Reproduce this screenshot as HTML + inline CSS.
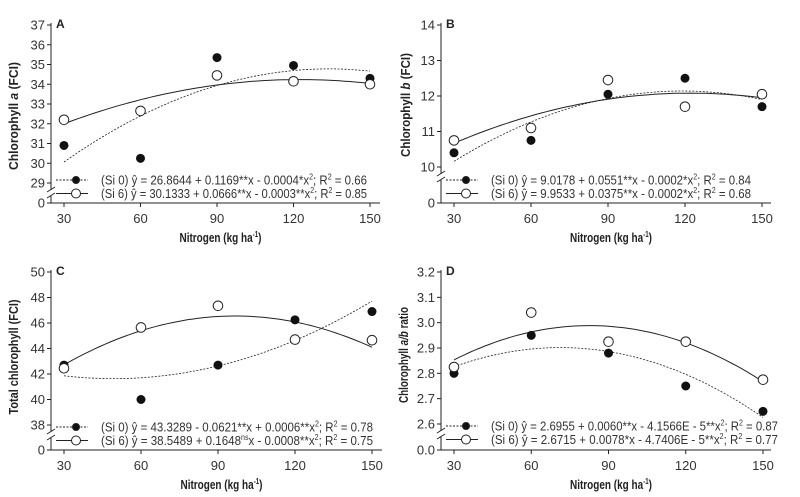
<!DOCTYPE html>
<html><head><meta charset="utf-8"><style>
html,body{margin:0;padding:0;background:#fff;}
svg{display:block;font-family:"Liberation Sans Narrow","Liberation Sans",sans-serif;}
</style></head><body>
<svg id="chart" width="800" height="497" viewBox="0 0 800 497"></svg>
<script>
const nitrogenLevels = [30, 60, 90, 120, 150];
const chlAsi0 = [30.9, 30.25, 35.35, 34.95, 34.3];
const chlAsi6 = [32.2, 32.65, 34.45, 34.15, 34.0];
const chlBsi0 = [10.4, 10.75, 12.05, 12.5, 11.7];
const chlBsi6 = [10.75, 11.1, 12.45, 11.7, 12.05];
const totSi0 = [42.7, 40.0, 42.7, 46.25, 46.9];
const totSi6 = [42.45, 45.65, 47.35, 44.7, 44.65];
const ratioSi0 = [2.80, 2.95, 2.88, 2.75, 2.65];
const ratioSi6 = [2.825, 3.04, 2.925, 2.925, 2.775];
const ticksA = [29, 30, 31, 32, 33, 34, 35, 36, 37];
const ticksB = [10, 11, 12, 13, 14];
const ticksC = [38, 40, 42, 44, 46, 48, 50];
const ticksD = [2.6, 2.7, 2.8, 2.9, 3.0, 3.1, 3.2];
const xTicks = [30, 60, 90, 120, 150];

const NS = "http://www.w3.org/2000/svg";
const svg = document.getElementById('chart');
function mk(tag, attrs, parent) {
  const e = document.createElementNS(NS, tag);
  for (const k in attrs) e.setAttribute(k, attrs[k]);
  (parent || svg).appendChild(e);
  return e;
}
function fitQuad(xs, ys) {
  let S = [0,0,0,0,0], T = [0,0,0];
  for (let i = 0; i < xs.length; i++) {
    const x = xs[i], y = ys[i];
    for (let p = 0; p < 5; p++) S[p] += Math.pow(x, p);
    for (let p = 0; p < 3; p++) T[p] += y * Math.pow(x, p);
  }
  const M = [[S[0],S[1],S[2],T[0]],[S[1],S[2],S[3],T[1]],[S[2],S[3],S[4],T[2]]];
  for (let i = 0; i < 3; i++) {
    for (let j = i + 1; j < 3; j++) {
      const f = M[j][i] / M[i][i];
      for (let k = i; k < 4; k++) M[j][k] -= f * M[i][k];
    }
  }
  const c = [0,0,0];
  for (let i = 2; i >= 0; i--) {
    let s = M[i][3];
    for (let k = i + 1; k < 3; k++) s -= M[i][k] * c[k];
    c[i] = s / M[i][i];
  }
  return x => c[0] + c[1] * x + c[2] * x * x;
}

function panel(cfg) {
  const g = mk('g', {});
  
  
  const ax = cfg.ax, base = cfg.base;
  const X = v => cfg.x30 + (v - 30) * (cfg.x150 - cfg.x30) / 120;
  const Y = v => cfg.yTop + (cfg.ticks[cfg.ticks.length - 1] - v) * (cfg.yLow - cfg.yTop) / (cfg.ticks[cfg.ticks.length - 1] - cfg.ticks[0]);
  const breakY = cfg.yLow + 9;
  const ya = mk('path', {d: `M${ax},${cfg.yTop - 2}V${breakY - 2}M${ax},${breakY + 4}V${base}H${cfg.xEnd}`, stroke: '#222', 'stroke-width': 1, fill: 'none'}, g);
  
  
  mk('path', {d: `M${ax - 4},${breakY}L${ax + 4},${breakY - 5}M${ax - 4},${breakY + 6}L${ax + 4},${breakY + 1}`, stroke: '#222', 'stroke-width': 1, fill: 'none'}, g);
  cfg.ticks.forEach(t => {
    const y = Y(t);
    mk('line', {x1: ax - 4, x2: ax, y1: y, y2: y, stroke: '#222'}, g);
    const tx = mk('text', {x: ax - 6, y: y + 4.5, 'text-anchor': 'end', 'font-size': 13, fill: '#333'}, g);
    tx.textContent = cfg.fmt(t);
    
    
  });
  mk('line', {x1: ax - 4, x2: ax, y1: base, y2: base, stroke: '#222'}, g);
  const z = mk('text', {x: ax - 6, y: base + 4.5, 'text-anchor': 'end', 'font-size': 13, fill: '#333'}, g);
  z.textContent = cfg.zero;
  
  
  xTicks.forEach(t => {
    mk('line', {x1: X(t), x2: X(t), y1: base, y2: base + 4, stroke: '#222'}, g);
    const tx = mk('text', {x: X(t), y: base + 20, 'text-anchor': 'middle', 'font-size': 13, fill: '#333'}, g);
    tx.textContent = t;
    
    
  });
  const xt = mk('text', {x: (ax + cfg.xEnd) / 2 + 5, y: base + 39, 'text-anchor': 'middle', 'font-size': 13, 'font-weight': 'bold', fill: '#222', textLength: 82, lengthAdjust: 'spacingAndGlyphs'}, g);
  xt.innerHTML = 'Nitrogen (kg ha<tspan dy="-5" font-size="8">-1</tspan><tspan dy="5">)</tspan>';
  
  
  const yt = mk('text', {transform: `translate(${cfg.ytx},${cfg.yty}) rotate(-90)`, 'text-anchor': 'middle', 'font-size': 13, 'font-weight': 'bold', fill: '#222', textLength: cfg.ytLen, lengthAdjust: 'spacingAndGlyphs'}, g);
  yt.innerHTML = cfg.ytitle;
  
  
  const lb = mk('text', {x: ax + 5, y: cfg.yTop + 3, 'font-size': 12, 'font-weight': 'bold', fill: '#222'}, g);
  lb.textContent = cfg.letter;
  
  
  [[cfg.s0, '2,1.5', 'fit-curve-si0'], [cfg.s6, null, 'fit-curve-si6']].forEach(([ys, dash, nm]) => {
    const f = fitQuad(nitrogenLevels, ys);
    let d = '';
    for (let v = 30; v <= 150; v += 2) d += (v === 30 ? 'M' : 'L') + X(v).toFixed(1) + ',' + Y(f(v)).toFixed(1);
    const p = mk('path', {d: d, fill: 'none', stroke: '#222', 'stroke-width': dash ? 0.8 : 1}, g);
    if (dash) p.setAttribute('stroke-dasharray', dash);
    
    
  });
  nitrogenLevels.forEach((n, i) => {
    const c = mk('circle', {cx: X(n), cy: Y(cfg.s0[i]), r: 4, fill: '#111', stroke: '#111'}, g);
    
    
    const o = mk('circle', {cx: X(n), cy: Y(cfg.s6[i]), r: 4.8, fill: '#fff', stroke: '#222', 'stroke-width': 1}, g);
    
    
  });
  cfg.legend.forEach((txt, k) => {
    const ly = cfg.legY + k * 13.5;
    const ln = mk('line', {x1: ax + 5, x2: ax + 37, y1: ly, y2: ly, stroke: '#222'}, g);
    if (k === 0) ln.setAttribute('stroke-dasharray', '2,1.5');
    
    
    const m = mk('circle', {cx: ax + 25, cy: ly, r: k === 0 ? 3.5 : 4.5, fill: k === 0 ? '#111' : '#fff', stroke: '#222'}, g);
    
    
    const t = mk('text', {x: ax + 50, y: ly + 4.5, 'font-size': 13, fill: '#333', textLength: cfg.legLen, lengthAdjust: 'spacingAndGlyphs'}, g);
    t.innerHTML = txt;
    
    
  });
}
const sq = '<tspan dy="-5" font-size="8">2</tspan><tspan dy="5">';
panel({name: 'panel-a', letter: 'A', ax: 51, base: 203, xEnd: 380, x30: 64, x150: 370, yTop: 25, yLow: 183, ticks: ticksA, s0: chlAsi0, s6: chlAsi6, fmt: v => v, zero: '0', ytx: 18, yty: 116, ytLen: 108, legY: 180, legLen: 266,
  ytitle: 'Chlorophyll <tspan font-style="italic">a</tspan> (FCI)',
  legend: ['(Si 0) ŷ = 26.8644 + 0.1169**x - 0.0004*x' + sq + '; R</tspan><tspan dy="-5" font-size="8">2</tspan><tspan dy="5"> = 0.66</tspan>',
           '(Si 6) ŷ = 30.1333 + 0.0666**x - 0.0003**x' + sq + '; R</tspan><tspan dy="-5" font-size="8">2</tspan><tspan dy="5"> = 0.85</tspan>']});
panel({name: 'panel-b', letter: 'B', ax: 441, base: 203, xEnd: 771, x30: 454, x150: 762, yTop: 25, yLow: 167, ticks: ticksB, s0: chlBsi0, s6: chlBsi6, fmt: v => v, zero: '0', ytx: 410, yty: 105, ytLen: 104, legY: 180, legLen: 260,
  ytitle: 'Chlorophyll <tspan font-style="italic">b</tspan> (FCI)',
  legend: ['(Si 0) ŷ = 9.0178 + 0.0551**x - 0.0002*x' + sq + '; R</tspan><tspan dy="-5" font-size="8">2</tspan><tspan dy="5"> = 0.84</tspan>',
           '(Si 6) ŷ = 9.9533 + 0.0375**x - 0.0002*x' + sq + '; R</tspan><tspan dy="-5" font-size="8">2</tspan><tspan dy="5"> = 0.68</tspan>']});
panel({name: 'panel-c', letter: 'C', ax: 51, base: 450, xEnd: 382, x30: 64, x150: 372, yTop: 272, yLow: 425, ticks: ticksC, s0: totSi0, s6: totSi6, fmt: v => v, zero: '0', ytx: 18, yty: 357, ytLen: 115, legY: 427, legLen: 272,
  ytitle: 'Total chlorophyll (FCI)',
  legend: ['(Si 0) ŷ = 43.3289 - 0.0621**x + 0.0006**x' + sq + '; R</tspan><tspan dy="-5" font-size="8">2</tspan><tspan dy="5"> = 0.78</tspan>',
           '(Si 6) ŷ = 38.5489 + 0.1648<tspan dy="-5" font-size="8">ns</tspan><tspan dy="5">x - 0.0008**x</tspan>' + sq + '; R</tspan><tspan dy="-5" font-size="8">2</tspan><tspan dy="5"> = 0.75</tspan>']});
panel({name: 'panel-d', letter: 'D', ax: 441, base: 450, xEnd: 771, x30: 454, x150: 763, yTop: 272, yLow: 424, ticks: ticksD, s0: ratioSi0, s6: ratioSi6, fmt: v => v.toFixed(1), zero: '0.0', ytx: 408, yty: 355, ytLen: 96, legY: 426, legLen: 287,
  ytitle: 'Chlorophyll <tspan font-style="italic">a/b</tspan> ratio',
  legend: ['(Si 0) ŷ = 2.6955 + 0.0060**x - 4.1566E - 5**x' + sq + '; R</tspan><tspan dy="-5" font-size="8">2</tspan><tspan dy="5"> = 0.87</tspan>',
           '(Si 6) ŷ = 2.6715 + 0.0078*x - 4.7406E - 5**x' + sq + '; R</tspan><tspan dy="-5" font-size="8">2</tspan><tspan dy="5"> = 0.77</tspan>']});
</script>
</body></html>
